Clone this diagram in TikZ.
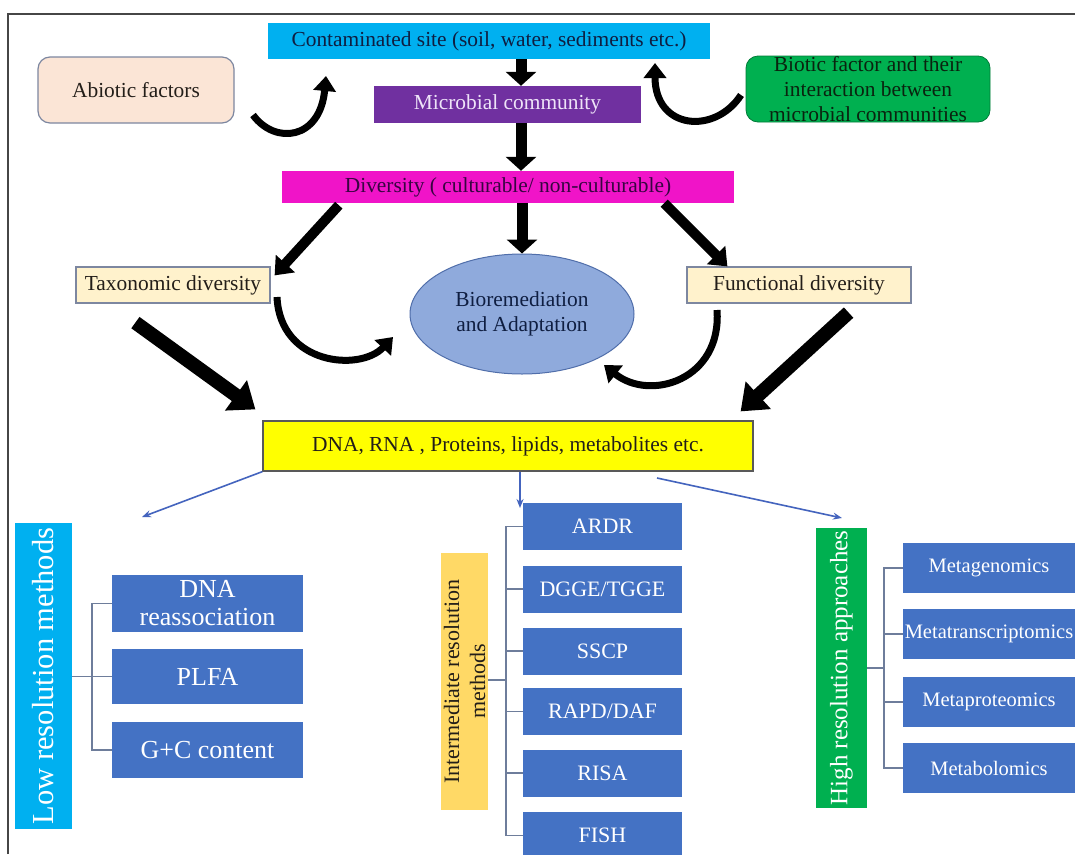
\documentclass[tikz,border=0pt]{standalone}
\usepackage{fontspec}
\setmainfont{Liberation Serif}
\usetikzlibrary{arrows.meta,calc,shapes.geometric}
\definecolor{cyanbox}{RGB}{0,176,240}
\definecolor{purplebox}{RGB}{112,48,160}
\definecolor{magentabox}{RGB}{240,20,200}
\definecolor{peachbox}{RGB}{251,229,214}
\definecolor{greenbox}{RGB}{0,176,80}
\definecolor{creambox}{RGB}{255,242,204}
\definecolor{ellfill}{RGB}{143,170,220}
\definecolor{ellborder}{RGB}{80,110,170}
\definecolor{yellowbox}{RGB}{255,255,0}
\definecolor{bluebox}{RGB}{68,114,196}
\definecolor{goldbox}{RGB}{255,217,102}
\definecolor{treecol}{RGB}{110,125,155}
\definecolor{thinblue}{RGB}{68,100,190}
\definecolor{framecol}{RGB}{70,70,70}
\definecolor{navytext}{RGB}{15,30,65}
\definecolor{lavtext}{RGB}{238,228,248}
\definecolor{darktext}{RGB}{35,30,25}
\definecolor{divtext}{RGB}{55,5,65}
\definecolor{greentext}{RGB}{10,35,15}
\definecolor{bordergray}{RGB}{125,135,160}
\begin{document}
\begin{tikzpicture}[x=1pt,y=-1pt,
  box/.style={inner sep=0pt, align=center, draw=none},
  stdfont/.style={font=\fontsize{21.4}{25}\selectfont},
  methodbox/.style={box, fill=bluebox, text=white},
  bigarrow/.style={draw=black, line width=11pt, -{Triangle[width=30pt,length=14pt]}},
  diagarrow/.style={draw=black, line width=10pt, -{Triangle[width=25pt,length=16pt]}},
  hugearrow/.style={draw=black, line width=14pt, -{Triangle[width=36pt,length=24pt]}},
  curvearrow/.style={draw=black, line width=7pt, -{Triangle[width=22pt,length=15pt]}},
  thinarrow/.style={draw=thinblue, line width=1.6pt, -{Stealth[length=9pt,width=7pt]}},
  tree/.style={draw=treecol, line width=1.5pt}
]
\useasboundingbox (0,0) rectangle (1075,854);
\fill[white] (0,0) rectangle (1075,854);
% frame
\draw[line width=2pt, framecol] (8,854) -- (8,14) -- (1075,14);

% top boxes
\node[box, stdfont, fill=cyanbox, text=navytext, minimum width=442pt, minimum height=36pt] (cont) at (489,41) {Contaminated site (soil, water, sediments etc.)};
\node[box, stdfont, fill=purplebox, text=lavtext, minimum width=267pt, minimum height=37pt] (micro) at (507.5,104.5) {Microbial community};
\node[box, stdfont, fill=peachbox, draw=bordergray, line width=1.2pt, rounded corners=12pt, text=darktext, minimum width=196pt, minimum height=66pt] (abio) at (136,90) {Abiotic factors};
\node[box, stdfont, fill=greenbox, draw=greenbox!70!black, line width=0.8pt, rounded corners=12pt, text=greentext, minimum width=244pt, minimum height=66pt] (bio) at (868,89) {Biotic factor and their\\interaction between\\microbial communities};
\node[box, stdfont, fill=magentabox, text=divtext, minimum width=452pt, minimum height=32pt] (div) at (508,187) {Diversity ( culturable/ non-culturable)};
\node[box, stdfont, fill=creambox, draw=bordergray, line width=1.2pt, text=darktext, minimum width=194pt, minimum height=36pt] (tax) at (173,285) {Taxonomic diversity};
\node[box, stdfont, fill=creambox, draw=bordergray, line width=1.2pt, text=darktext, minimum width=224pt, minimum height=36pt] (func) at (799,285) {Functional diversity};
\node[ellipse, inner sep=0pt, align=center, stdfont, fill=ellfill, draw=ellborder, line width=1pt, text=navytext, minimum width=224pt, minimum height=120pt] (ell) at (522,314) {Bioremediation\\and Adaptation};
\node[box, stdfont, fill=yellowbox, draw=gray!70!black, line width=1.2pt, text=darktext, minimum width=490pt, minimum height=50pt] (dna) at (508,446) {DNA, RNA , Proteins, lipids, metabolites etc.};

% coordinates
\coordinate (ax) at (521,0);
\coordinate (c1a) at (253,115);
\coordinate (c1b) at (326,76);
\coordinate (c2a) at (741,95);
\coordinate (c2b) at (655,63);
\coordinate (c3a) at (277,297);
\coordinate (c3b) at (393,337);
\coordinate (c4a) at (717,310);
\coordinate (c4b) at (604,365);

% thick arrows
\draw[bigarrow] (cont.south -| ax) -- (micro.north -| ax);
\draw[bigarrow] (micro.south -| ax) -- (div.north -| ax);
\draw[bigarrow] (div.south -| ell.north) -- (ell.north);
\draw[diagarrow] ($(div.south west)+(57,2)$) -- ($(tax.north east)+(4,9)$);
\draw[diagarrow] ($(div.south east)+(-70,0)$) -- ($(func.north west)+(41,0)$);
\draw[hugearrow] ($(tax.south west)+(60,19)$) -- ($(dna.north west)+(-7,-11)$);
\draw[hugearrow] ($(func.south east)+(-63,9)$) -- ($(dna.north east)+(-13,-9)$);

% curved arrows
\draw[curvearrow] (c1a) .. controls (275,145) and (320,140) .. (c1b);
\draw[curvearrow] (c2a) .. controls (715,135) and (655,130) .. (c2b);
\draw[curvearrow] (c3a) .. controls (280,365) and (360,372) .. (c3b);
\draw[curvearrow] (c4a) .. controls (722,380) and (650,402) .. (c4b);

% category boxes
\node[box, fill=cyanbox, text=white, rotate=90, font=\fontsize{30.5}{34}\selectfont, minimum width=306pt, minimum height=57pt] (low) at (43.5,676) {Low resolution methods};
\node[box, fill=goldbox, text=darktext, rotate=90, font=\fontsize{22}{26}\selectfont, minimum width=257pt, minimum height=47pt] (inter) at (464.5,681.5) {Intermediate resolution\\methods};
\node[box, fill=greenbox, text=white, rotate=90, font=\fontsize{25}{29}\selectfont, minimum width=280pt, minimum height=51pt] (high) at (841.5,668) {High resolution approaches};

% thin arrows
\coordinate (lowtip) at (142,517);
\coordinate (midtip) at (520,508);
\coordinate (rstart) at (657,478);
\coordinate (hightip) at (842,518);
\draw[thinarrow] (dna.south west) -- (lowtip);
\draw[thinarrow] (dna.south -| midtip) -- (midtip);
\draw[thinarrow] (rstart) -- (hightip);

% low resolution methods
\begin{scope}[every node/.style={methodbox, font=\fontsize{26}{28}\selectfont, minimum width=191pt}]
\node[minimum height=57pt] (dnar) at (207.5,603.5) {DNA\\reassociation};
\node[minimum height=55pt] (plfa) at (207.5,676.5) {PLFA};
\node[minimum height=56pt] (gc) at (207.5,750) {G+C content};
\end{scope}
\coordinate (lt) at (92,0);
\draw[tree] (dnar.west) -- (dnar.west -| lt) -- (gc.west -| lt) -- (gc.west);
\draw[tree] (low.south |- plfa.west) -- (plfa.west);

% intermediate methods
\begin{scope}[every node/.style={methodbox, font=\fontsize{22}{26}\selectfont, minimum width=159pt, minimum height=47pt}]
\node (ardr) at (602.5,526.5) {ARDR};
\node (dgge) at (602.5,589) {DGGE/TGGE};
\node (sscp) at (602.5,651) {SSCP};
\node (rapd) at (602.5,711.5) {RAPD/DAF};
\node (risa) at (602.5,773) {RISA};
\node (fish) at (602.5,835.5) {FISH};
\end{scope}
\coordinate (mt) at (506,0);
\draw[tree] (ardr.west) -- (ardr.west -| mt) -- (fish.west -| mt) -- (fish.west);
\foreach \n in {dgge,sscp,rapd,risa} \draw[tree] (\n.west -| mt) -- (\n.west);
\draw[tree] (inter.south |- 0,680) -- (mt |- 0,680);

% high resolution methods
\begin{scope}[every node/.style={methodbox, font=\fontsize{20.5}{24}\selectfont, minimum width=172pt, minimum height=50pt}]
\node (mg) at (989,568) {Metagenomics};
\node (mtr) at (989,634) {Metatranscriptomics};
\node (mp) at (989,702) {Metaproteomics};
\node (mb) at (989,768) {Metabolomics};
\end{scope}
\coordinate (rt) at (884,0);
\draw[tree] (mg.west) -- (mg.west -| rt) -- (mb.west -| rt) -- (mb.west);
\foreach \n in {mtr,mp} \draw[tree] (\n.west -| rt) -- (\n.west);
\draw[tree] (high.south |- 0,668) -- (rt |- 0,668);
\end{tikzpicture}
\end{document}
